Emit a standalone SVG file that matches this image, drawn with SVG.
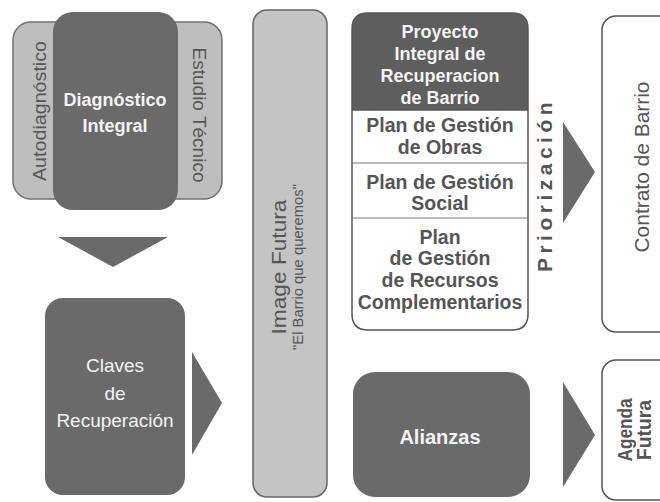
<svg xmlns="http://www.w3.org/2000/svg" width="660" height="502" viewBox="0 0 660 502">
<style>
text{font-family:"Liberation Sans",Arial,sans-serif;text-anchor:middle}
.dark{fill:#6a6a6a}
.lt{fill:#f3f3f3}
.gt{fill:#555555}
.wbox{fill:#ffffff;stroke:#555555;stroke-width:1.5}
.arrow{fill:#6a6a6a}
</style>
<rect width="660" height="502" fill="#ffffff"/>
<g id="diagnostico">
<rect x="13" y="22" width="209" height="177" rx="18" fill="#bebebe" stroke="#707070" stroke-width="1.5"/>
<rect x="53" y="12" width="125" height="198" rx="20" class="dark"/>
<text x="115" y="106" class="lt" font-size="18" font-weight="bold">Diagnóstico</text>
<text x="115" y="132" class="lt" font-size="18" font-weight="bold">Integral</text>
<text transform="translate(39,111) rotate(-90)" y="6.5" class="gt" font-size="18" textLength="140" lengthAdjust="spacingAndGlyphs">Autodiagnóstico</text>
<text transform="translate(199,115) rotate(90)" y="6.5" class="gt" font-size="18" textLength="135" lengthAdjust="spacingAndGlyphs">Estudio Técnico</text>
</g>
<g id="claves">
<rect x="45" y="298" width="140" height="197" rx="18" class="dark"/>
<text x="115" y="372" class="lt" font-size="19">Claves</text>
<text x="115" y="400" class="lt" font-size="19">de</text>
<text x="115" y="427" class="lt" font-size="19">Recuperación</text>
</g>
<g id="imagen-futura">
<rect x="253" y="10" width="74" height="487" rx="14" fill="#c4c4c4" stroke="#666666" stroke-width="1.5"/>
<text transform="translate(279,267) rotate(-90)" y="7" class="gt" font-size="21" textLength="135" lengthAdjust="spacingAndGlyphs">Image Futura</text>
<text transform="translate(298,267) rotate(-90)" y="5" class="gt" font-size="14.5" textLength="166" lengthAdjust="spacingAndGlyphs">"El Barrio que queremos"</text>
</g>
<g id="proyecto">
<path d="M352 110 V29 Q352 13 368 13 H512 Q528 13 528 29 V110 Z" fill="#5e5e5e"/>
<path d="M352 110 H528 V314 Q528 330 512 330 H368 Q352 330 352 314 Z" class="wbox"/>
<path d="M352 110 V29 Q352 13 368 13 H512 Q528 13 528 29 V110" fill="none" stroke="#555555" stroke-width="1.5"/>
<line x1="352" y1="163" x2="528" y2="163" stroke="#777777" stroke-width="1.2"/>
<line x1="352" y1="218" x2="528" y2="218" stroke="#777777" stroke-width="1.2"/>
<text x="440" y="38" class="lt" font-size="18" font-weight="bold">Proyecto</text>
<text x="440" y="60" class="lt" font-size="18" font-weight="bold">Integral de</text>
<text x="440" y="82" class="lt" font-size="18" font-weight="bold">Recuperacion</text>
<text x="440" y="104" class="lt" font-size="18" font-weight="bold">de Barrio</text>
<text x="440" y="132" class="gt" font-size="19.5" font-weight="bold">Plan de Gestión</text>
<text x="440" y="154" class="gt" font-size="19.5" font-weight="bold">de Obras</text>
<text x="440" y="189" class="gt" font-size="19.5" font-weight="bold">Plan de Gestión</text>
<text x="440" y="210" class="gt" font-size="19.5" font-weight="bold">Social</text>
<text x="440" y="244" class="gt" font-size="19.5" font-weight="bold">Plan</text>
<text x="440" y="265" class="gt" font-size="19.5" font-weight="bold">de Gestión</text>
<text x="440" y="287" class="gt" font-size="19.5" font-weight="bold">de Recursos</text>
<text x="440" y="309" class="gt" font-size="19.5" font-weight="bold">Complementarios</text>
</g>
<g id="priorizacion">
<text transform="translate(545,185) rotate(-90)" y="7" class="gt" font-size="21" font-weight="bold" letter-spacing="4.5">Priorización</text>
</g>
<g id="contrato">
<rect x="602" y="16" width="80" height="316" rx="14" class="wbox"/>
<text transform="translate(642,167) rotate(-90)" y="7" class="gt" font-size="20" textLength="171" lengthAdjust="spacingAndGlyphs">Contrato de Barrio</text>
</g>
<g id="alianzas">
<rect x="353" y="372" width="177" height="125" rx="22" class="dark"/>
<text x="440" y="444" class="lt" font-size="20" font-weight="bold">Alianzas</text>
</g>
<g id="agenda">
<rect x="602" y="360" width="80" height="140" rx="14" class="wbox"/>
<text transform="translate(625,430) rotate(-90)" y="7" class="gt" font-size="20" font-weight="bold" textLength="63" lengthAdjust="spacingAndGlyphs">Agenda</text>
<text transform="translate(644,430) rotate(-90)" y="7" class="gt" font-size="20" font-weight="bold" textLength="60" lengthAdjust="spacingAndGlyphs">Futura</text>
</g>
<g id="connectors">
<polygon points="58,237 168,237 113,267" class="arrow"/>
<polygon points="192,352 192,455 222,403" class="arrow"/>
<polygon points="563,122 563,223 595,172" class="arrow"/>
<polygon points="563,382 563,487 595,435" class="arrow"/>
</g>
</svg>
